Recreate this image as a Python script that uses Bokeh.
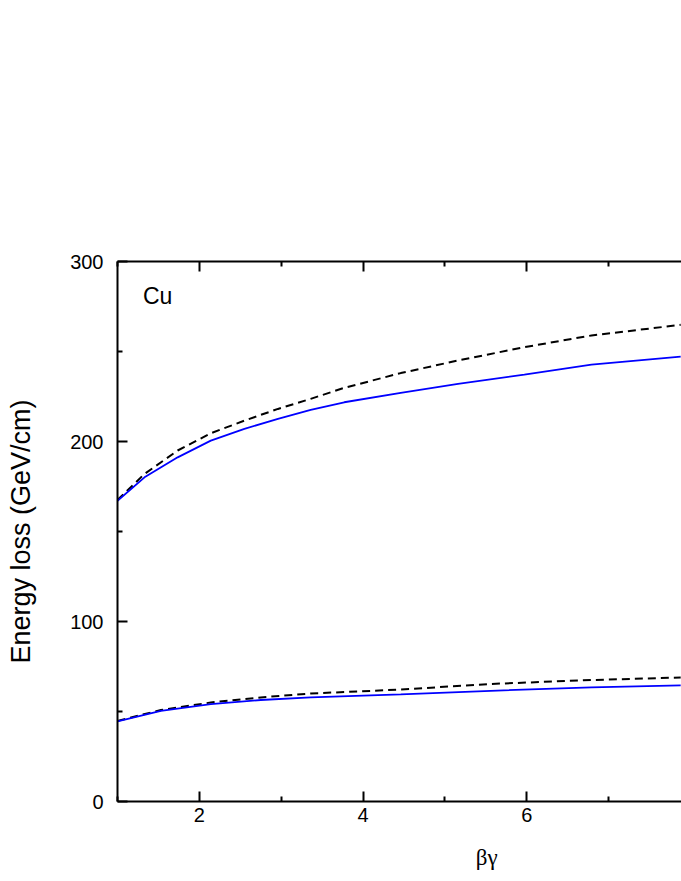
from bokeh.plotting import figure
from bokeh.models import Range1d, LinearAxis, FixedTicker, Label
from bokeh.embed import file_html
from bokeh.resources import INLINE

# Data (beta*gamma vs energy loss, Cu)
x_upper_solid = [1.0, 1.33, 1.735, 2.14, 2.55, 2.96, 3.36, 3.77, 4.46, 5.16, 5.97, 6.79, 7.88]
y_upper_solid = [167.1, 180.1, 191.2, 200.5, 207.0, 212.6, 217.6, 221.8, 227.0, 232.0, 237.2, 242.7, 247.2]

x_upper_dash = [1.0, 1.33, 1.735, 2.14, 2.55, 2.96, 3.36, 3.77, 4.46, 5.16, 5.97, 6.79, 7.88]
y_upper_dash = [167.5, 182.0, 195.0, 204.6, 211.6, 218.1, 223.7, 229.8, 238.0, 245.0, 252.4, 258.9, 264.8]

x_lower_solid = [1.0, 1.53, 2.14, 2.75, 3.36, 4.46, 5.56, 6.79, 7.88]
y_lower_solid = [44.5, 50.4, 54.1, 56.4, 57.8, 59.5, 61.5, 63.4, 64.5]

x_lower_dash = [1.0, 1.53, 2.14, 2.75, 3.36, 4.46, 5.56, 6.79, 7.88]
y_lower_dash = [44.8, 50.8, 55.0, 57.8, 60.0, 62.2, 65.3, 67.5, 68.9]

x_major_ticks = [2, 4, 6, 8]
x_minor_ticks = [1, 3, 5, 7, 9]
y_major_ticks = [0, 100, 200, 300]
y_minor_ticks = [50, 150, 250]

x_title = "βγ"
x_title_pos = 5.51   # centre of the full (cropped) x axis in data units

FONT = "Liberation Sans"

p = figure(width=681, height=881, output_backend="svg", toolbar_location=None,
           x_range=Range1d(1, 7.89), y_range=Range1d(0, 300),
           x_axis_location=None, y_axis_location=None,
           min_border_left=117, min_border_right=0,
           min_border_top=261, min_border_bottom=80)
p.outline_line_color = None
p.xgrid.visible = False
p.ygrid.visible = False
p.background_fill_color = "white"
p.border_fill_color = "white"

xt = FixedTicker(ticks=x_major_ticks, minor_ticks=x_minor_ticks)
yt = FixedTicker(ticks=y_major_ticks, minor_ticks=y_minor_ticks)


def style(ax):
    ax.axis_line_width = 2
    ax.axis_line_color = "black"
    ax.major_tick_in = 10
    ax.major_tick_out = 0
    ax.minor_tick_in = 5
    ax.minor_tick_out = 0
    ax.major_tick_line_width = 2
    ax.minor_tick_line_width = 2
    ax.major_tick_line_color = "black"
    ax.minor_tick_line_color = "black"
    ax.major_label_text_font = FONT
    ax.major_label_text_font_size = "20px"
    ax.major_label_text_color = "black"


bottom = LinearAxis(ticker=xt)
style(bottom)
bottom.major_label_standoff = 6
p.add_layout(bottom, "below")

# axis title placed through the x scale (centre of the full axis)
title_axis = LinearAxis(ticker=FixedTicker(ticks=[x_title_pos], minor_ticks=[]),
                        major_label_overrides={x_title_pos: x_title})
title_axis.axis_line_color = None
title_axis.major_tick_line_color = None
title_axis.minor_tick_line_color = None
title_axis.major_tick_in = 0
title_axis.major_tick_out = 0
title_axis.major_label_standoff = 20
title_axis.major_label_text_font = "Liberation Serif"
title_axis.major_label_text_font_size = "23px"
title_axis.major_label_text_color = "black"
p.add_layout(title_axis, "below")

top = LinearAxis(ticker=xt)
style(top)
top.major_label_overrides = {t: "" for t in x_major_ticks}
top.major_label_standoff = 0
p.add_layout(top, "above")

left = LinearAxis(ticker=yt, axis_label="Energy loss (GeV/cm)")
style(left)
left.major_label_standoff = 14
left.axis_label_text_font = FONT
left.axis_label_text_font_size = "27px"
left.axis_label_text_font_style = "normal"
left.axis_label_text_color = "black"
left.axis_label_standoff = 31
p.add_layout(left, "left")

p.line(x_upper_dash, y_upper_dash, line_color="black", line_width=2, line_dash="8 5")
p.line(x_lower_dash, y_lower_dash, line_color="black", line_width=2, line_dash="8 5")
p.line(x_upper_solid, y_upper_solid, line_color="#0000ff", line_width=1.8)
p.line(x_lower_solid, y_lower_solid, line_color="#0000ff", line_width=1.8)

p.add_layout(Label(x=1.31, y=281.0, text="Cu", text_font=FONT, text_font_size="23px",
                   text_color="black", text_baseline="alphabetic", text_align="left"))

open("out.html", "w").write(file_html(p, INLINE))
